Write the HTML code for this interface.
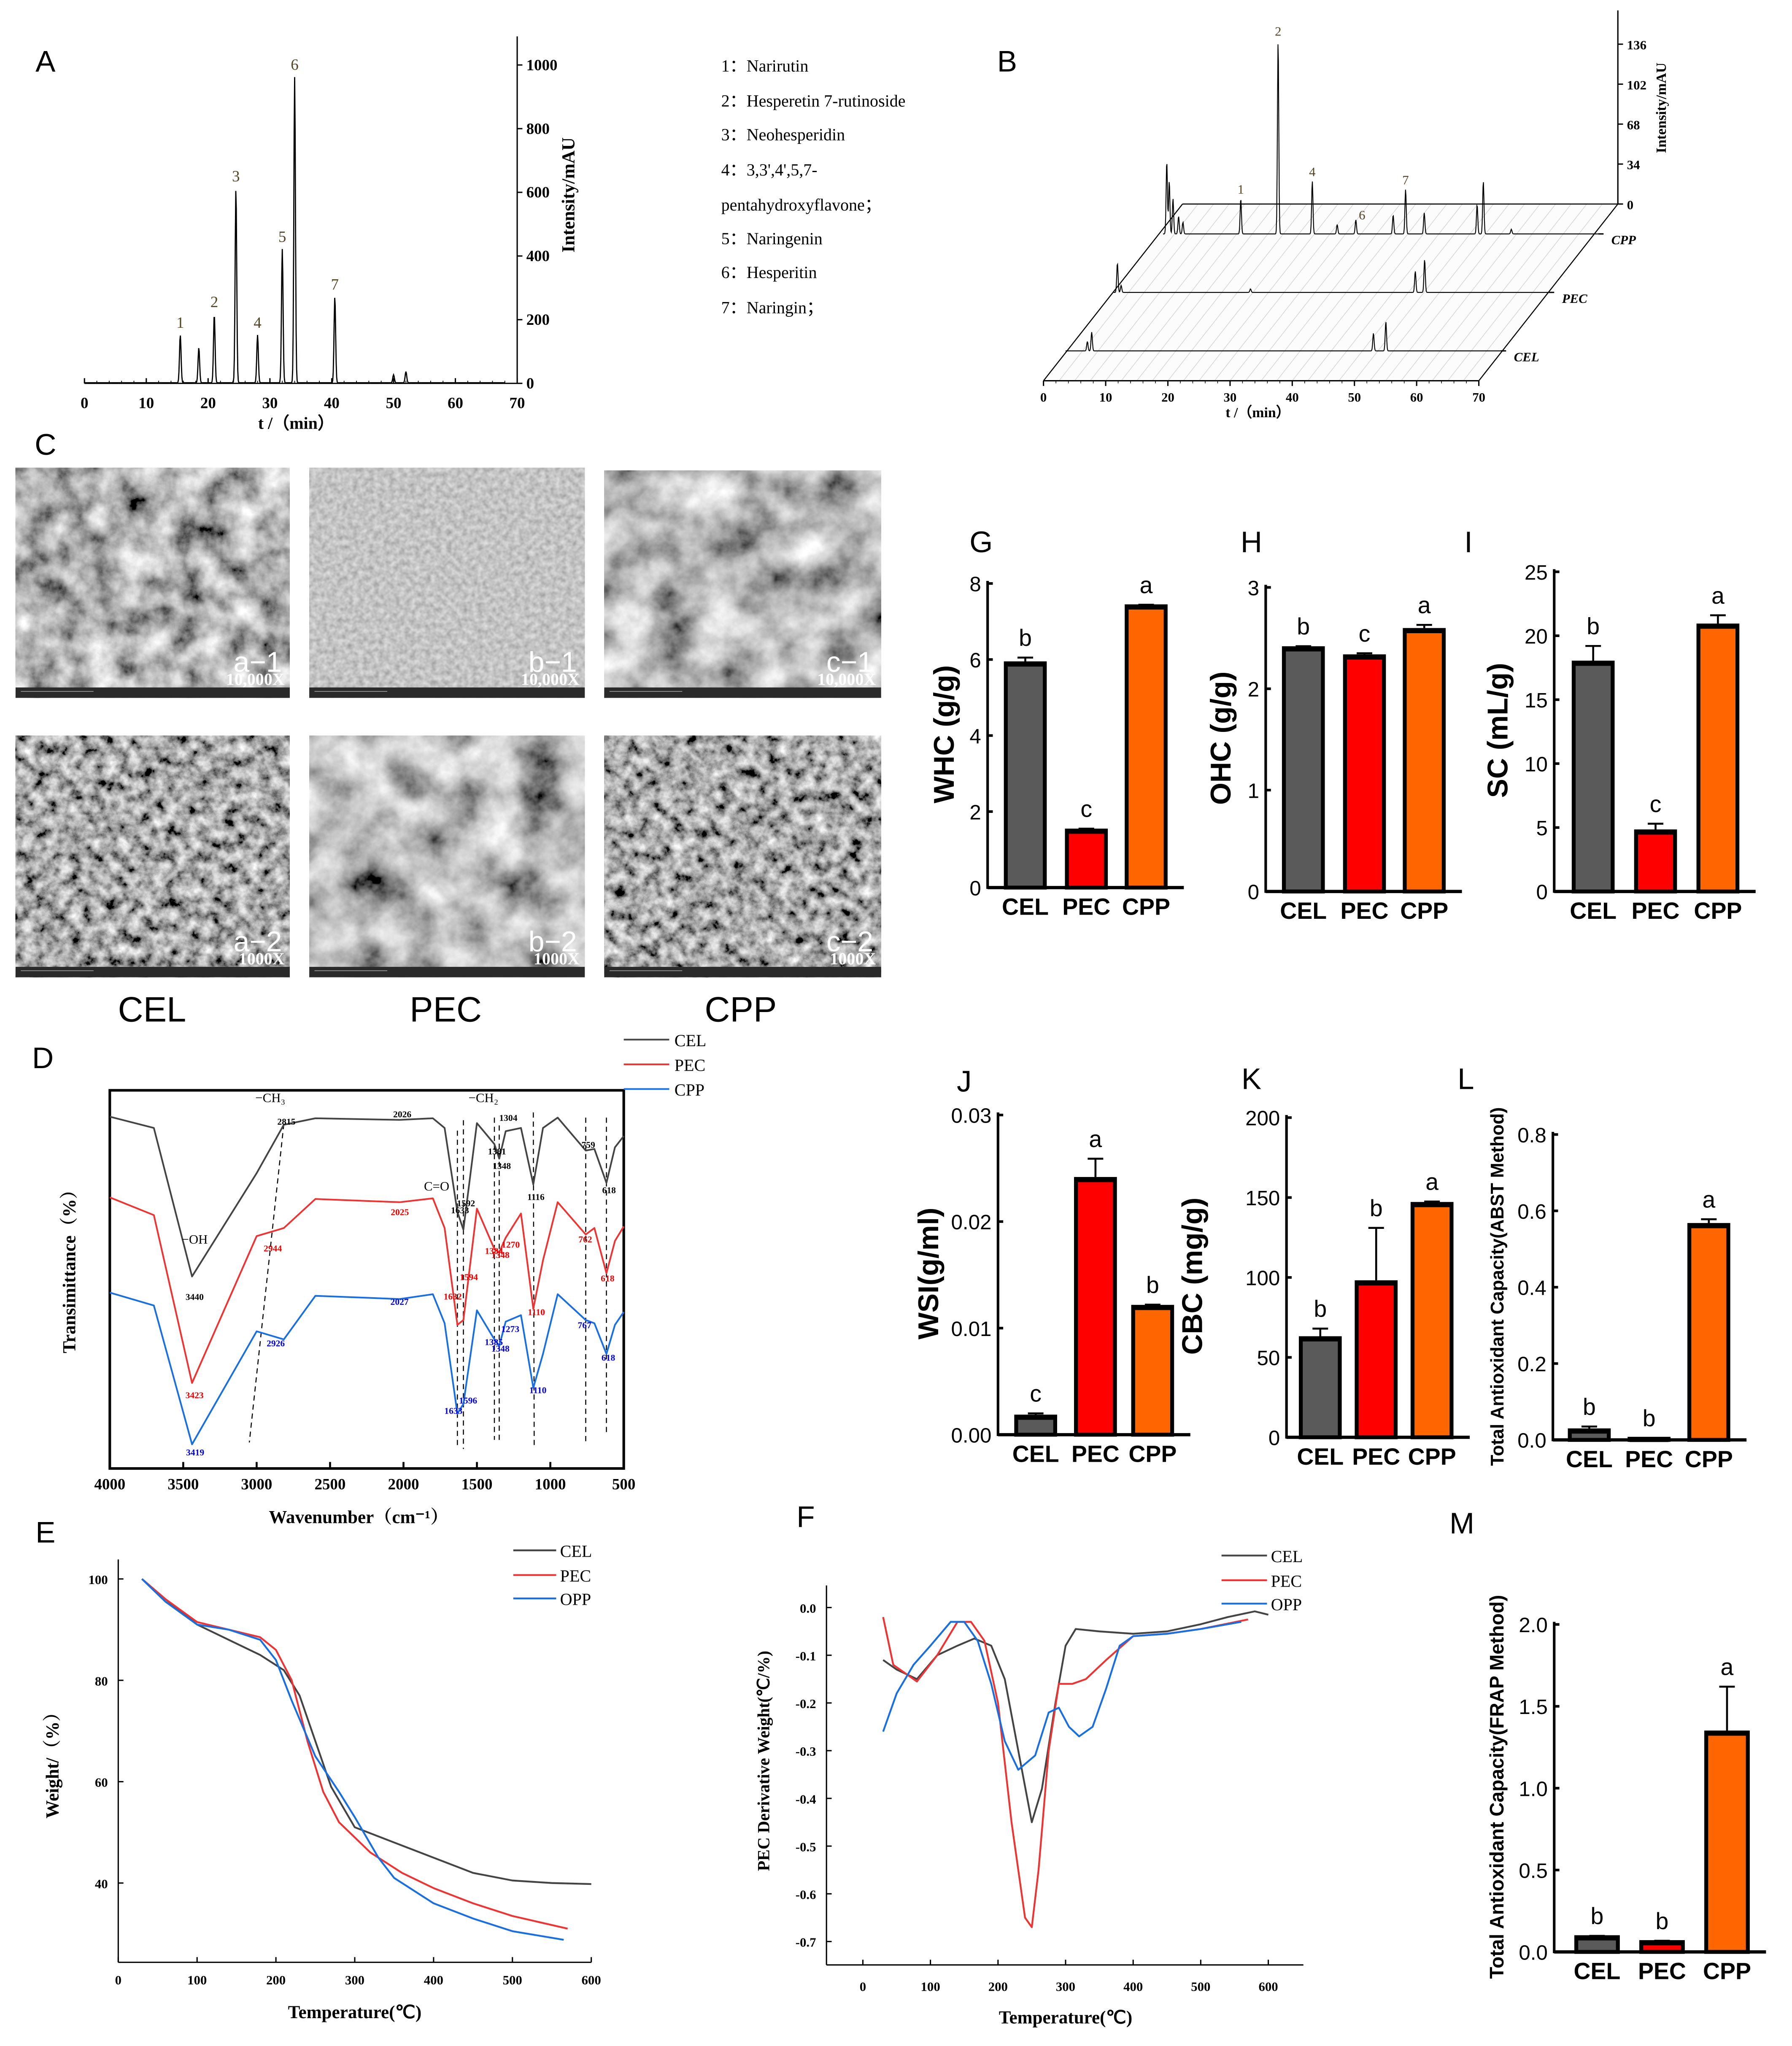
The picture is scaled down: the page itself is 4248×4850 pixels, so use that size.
<!DOCTYPE html>
<html><head><meta charset="utf-8"><style>
html,body{margin:0;padding:0;background:#fff;}
svg{display:block;}
</style></head>
<body>
<svg id="fig" width="4248" height="4850" viewBox="0 0 1379 1574.4" preserveAspectRatio="none" xmlns="http://www.w3.org/2000/svg">
<defs>
<filter id="sem1" x="0" y="0" width="100%" height="100%"><feTurbulence type="fractalNoise" baseFrequency="0.045" numOctaves="5" seed="3"/><feColorMatrix type="matrix" values="1.5 0 0 0 -0.3 1.5 0 0 0 -0.3 1.5 0 0 0 -0.3 0 0 0 0 1"/></filter>
<filter id="sem2" x="0" y="0" width="100%" height="100%"><feTurbulence type="fractalNoise" baseFrequency="0.11" numOctaves="4" seed="7"/><feColorMatrix type="matrix" values="1.5 0 0 0 -0.35 1.5 0 0 0 -0.35 1.5 0 0 0 -0.35 0 0 0 0 1"/></filter>
<filter id="sem3" x="0" y="0" width="100%" height="100%"><feTurbulence type="fractalNoise" baseFrequency="0.25" numOctaves="2" seed="5"/><feColorMatrix type="matrix" values="0.5 0 0 0 0.3 0.5 0 0 0 0.3 0.5 0 0 0 0.3 0 0 0 0 1"/></filter>
<filter id="sem4" x="0" y="0" width="100%" height="100%"><feTurbulence type="fractalNoise" baseFrequency="0.03" numOctaves="5" seed="11"/><feColorMatrix type="matrix" values="1.4 0 0 0 -0.2 1.4 0 0 0 -0.2 1.4 0 0 0 -0.2 0 0 0 0 1"/></filter>
</defs>
<g id="root"></g>
</svg>
<script>
// ---------- DATA ----------
const aPeakTimes=[15.5,18.5,21,24.5,28,32,34,40.5,50,52];
const aPeakHeights=[150,110,215,610,150,420,960,270,25,35];
const aPeakLabels=["1","","2","3","4","5","6","7","",""];
const aXTicks=[0,10,20,30,40,50,60,70];
const aYTicks=[0,200,400,600,800,1000];
const aLegend=["1：Narirutin","2：Hesperetin 7-rutinoside","3：Neohesperidin","4：3,3',4',5,7-","pentahydroxyflavone；","5：Naringenin","6：Hesperitin","7：Naringin；"];
const bCppTimes=[0.6,1.0,1.6,2.5,3.2,12.5,18.5,24,28,31,37,39,42,50.5,51.5,56];
const bCppHeights=[62,45,30,15,10,30,165,45,8,12,16,38,18,25,45,4];
const bPecTimes=[0.6,1.2,22,48.5,50];
const bPecHeights=[25,6,3,18,28];
const bCelTimes=[3.5,4.2,49.5,51.5];
const bCelHeights=[8,16,15,25];
const bXTicks=[0,10,20,30,40,50,60,70];
const bZTicks=[0,34,68,102,136];
const dWave=[4000,3700,3440,3000,2815,2600,2026,1800,1720,1633,1592,1500,1381,1348,1304,1200,1116,1050,950,759,700,618,560,500];
const dCel=[295,330,790,470,320,300,305,300,330,590,645,315,380,425,340,330,505,330,298,400,395,500,390,355];
const dPec=[545,600,1120,665,640,550,560,548,640,940,925,580,705,715,670,595,890,740,560,660,640,780,680,635];
const dCpp=[840,880,1310,960,985,850,860,845,935,1215,1185,895,985,1005,930,910,1135,1030,845,925,935,1030,940,900];
const dXTicks=[4000,3500,3000,2500,2000,1500,1000,500];
const eCelT=[30,60,100,140,180,210,230,250,270,300,350,400,450,500,550,600];
const eCelW=[100,96,91,88,85,82,77,68,59,51,48,45,42,40.5,40,39.8];
const ePecT=[30,60,100,140,180,200,220,240,260,280,320,360,400,450,500,570];
const ePecW=[100,96,91.5,90,88.5,86,80,68,58,52,46,42,39,36,33.5,31];
const eOppT=[30,60,100,140,180,200,220,250,280,300,330,350,400,450,500,565];
const eOppW=[100,95.5,91,90,88,84,76,65,58,53,45,41,36,33,30.5,28.8];
const eXTicks=[0,100,200,300,400,500,600];
const eYTicks=[40,60,80,100];
const fCelT=[30,50,80,110,140,165,190,210,230,250,265,285,300,315,350,400,450,500,540,580,600];
const fCelD=[-0.11,-0.13,-0.15,-0.1,-0.08,-0.065,-0.08,-0.15,-0.3,-0.45,-0.38,-0.2,-0.08,-0.045,-0.05,-0.055,-0.05,-0.035,-0.02,-0.008,-0.015];
const fPecT=[30,45,80,110,140,160,180,200,220,240,250,260,275,290,310,330,360,400,450,500,570];
const fPecD=[-0.02,-0.12,-0.155,-0.1,-0.03,-0.03,-0.07,-0.2,-0.45,-0.65,-0.67,-0.55,-0.3,-0.16,-0.16,-0.15,-0.11,-0.06,-0.055,-0.045,-0.025];
const fOppT=[30,50,75,100,130,150,170,190,210,230,255,275,290,305,320,340,360,380,400,450,500,560];
const fOppD=[-0.26,-0.18,-0.12,-0.08,-0.03,-0.03,-0.07,-0.16,-0.28,-0.34,-0.31,-0.22,-0.21,-0.25,-0.27,-0.25,-0.17,-0.08,-0.06,-0.055,-0.045,-0.03];
const fXTicks=[0,100,200,300,400,500,600];
const fYTicks=[0,-0.1,-0.2,-0.3,-0.4,-0.5,-0.6,-0.7];
const barCats=["CEL","PEC","CPP"];
const gVals=[5.9,1.5,7.4], gErr=[0.15,0.05,0.04], gLet=["b","c","a"], gTicks=[0,2,4,6,8];
const hVals=[2.4,2.32,2.58], hErr=[0.02,0.03,0.05], hLet=["b","c","a"], hTicks=[0,1,2,3];
const iVals=[17.9,4.7,20.8], iErr=[1.3,0.6,0.8], iLet=["b","c","a"], iTicks=[0,5,10,15,20,25];
const jVals=[0.0017,0.024,0.012], jErr=[0.0003,0.0019,0.0002], jLet=["c","a","b"], jTicks=[0,0.01,0.02,0.03];
const kVals=[62,97,146], kErr=[6,34,1.5], kLet=["b","b","a"], kTicks=[0,50,100,150,200];
const lVals=[0.025,0.003,0.563], lErr=[0.01,0.002,0.015], lLet=["b","b","a"], lTicks=[0,0.2,0.4,0.6,0.8];
const mVals=[0.09,0.06,1.34], mErr=[0.008,0.008,0.28], mLet=["b","b","a"], mTicks=[0,0.5,1.0,1.5,2.0];

// ---------- HELPERS ----------
const NS="http://www.w3.org/2000/svg";
const root=document.getElementById('root');
function mk(tag,attrs,parent){const e=document.createElementNS(NS,tag);for(const k in attrs)e.setAttribute(k,attrs[k]);(parent||root).appendChild(e);return e;}
function txt(x,y,s,size,opts,parent){opts=opts||{};const e=mk('text',{x:x,y:y,'font-size':size,'text-anchor':opts.anchor||'middle','font-family':opts.font||'"Liberation Sans",sans-serif','font-weight':opts.weight||'normal',fill:opts.fill||'#000'},parent);if(opts.rot)e.setAttribute('transform','rotate('+opts.rot+' '+x+' '+y+')');if(opts.italic)e.setAttribute('font-style','italic');e.textContent=s;return e;}
function lin(d0,d1,r0,r1){return v=>r0+(v-d0)*(r1-r0)/(d1-d0);}
const SERIF='"Liberation Serif",serif';

[["A",35,55],["B",775,55],["C",35,350],["D",33,822],["E",35,1187],["F",620,1175],["G",755,425],["H",963,425],["I",1130,425],["J",742,840],["K",963,838],["L",1128,838],["M",1125,1180]].forEach(p=>{
 const t=txt(p[1],p[2],p[0],23,{});
 
 
});

// ---------- PANEL A ----------
(function(){
 const g=mk('g',{});
 
 
 const x=lin(0,70,65,398), y=lin(0,1000,295,50);
 mk('line',{x1:65,y1:295,x2:398,y2:295,stroke:'#000','stroke-width':1},g);
 mk('line',{x1:398,y1:295,x2:398,y2:28,stroke:'#000','stroke-width':1},g);
 aXTicks.forEach(t=>{mk('line',{x1:x(t),y1:295,x2:x(t),y2:291,stroke:'#000'},g);txt(x(t),314,String(t),12,{font:SERIF,weight:'bold'},g);});
 for(let t=0;t<=70;t+=2)mk('line',{x1:x(t),y1:295,x2:x(t),y2:293,stroke:'#000','stroke-width':0.6},g);
 aYTicks.forEach(t=>{mk('line',{x1:398,y1:y(t),x2:402,y2:y(t),stroke:'#000'},g);txt(405,y(t)+4,String(t),12,{font:SERIF,weight:'bold',anchor:'start'},g);});
 txt(228,330,"t /（min）",13,{font:SERIF,weight:'bold'},g);
 const yl=txt(442,150,"Intensity/mAU",14,{font:SERIF,weight:'bold',rot:-90},g);
 
 let pts=[];
 for(let t=0;t<=68;t+=0.08){let v=2;aPeakTimes.forEach((pt,i)=>{v+=aPeakHeights[i]*Math.exp(-Math.pow((t-pt)/0.18,2));});pts.push(x(t).toFixed(2)+','+y(v).toFixed(2));}
 const pl=mk('polyline',{points:pts.join(' '),fill:'none',stroke:'#000','stroke-width':0.9},g);
 
 aPeakTimes.forEach((pt,i)=>{if(aPeakLabels[i])txt(x(pt),y(aPeakHeights[i])-6,aPeakLabels[i],12,{font:SERIF,fill:'#554422'},g);});
 aLegend.forEach((s,i)=>{const ly=[55,82,108,135,162,188,214,241][i];const t=txt(555,ly,s,13,{font:SERIF+',"Noto Sans CJK SC"',anchor:'start'},g);
  });
})();

// ---------- PANEL B ----------
(function(){
 const g=mk('g',{});
 
 
 const x=lin(0,70,803,1138);
 mk('polygon',{points:'803,293 1138,293 1245,157 910,157',fill:'#fcfcfc',stroke:'none'},g);
 for(let t=0;t<=70;t+=2.5){mk('line',{x1:x(t),y1:293,x2:x(t)+107,y2:157,stroke:'#ccc','stroke-width':0.4},g);}
 mk('line',{x1:803,y1:293,x2:910,y2:157,stroke:'#000','stroke-width':0.8},g);
 mk('line',{x1:1138,y1:293,x2:1245,y2:157,stroke:'#000','stroke-width':0.8},g);
 mk('line',{x1:910,y1:157,x2:1245,y2:157,stroke:'#000','stroke-width':0.8},g);
 mk('line',{x1:803,y1:293,x2:1138,y2:293,stroke:'#000','stroke-width':1},g);
 bXTicks.forEach(t=>{mk('line',{x1:x(t),y1:293,x2:x(t),y2:297,stroke:'#000'},g);txt(x(t),309,String(t),10,{font:SERIF,weight:'bold'},g);});
 for(let t=0;t<=70;t+=2)mk('line',{x1:x(t),y1:293,x2:x(t),y2:295,stroke:'#000','stroke-width':0.5},g);
 txt(968,321,"t /（min）",11,{font:SERIF,weight:'bold'},g);
 const z=lin(0,136,157,34);
 mk('line',{x1:1245,y1:157,x2:1245,y2:8,stroke:'#000'},g);
 bZTicks.forEach(t=>{mk('line',{x1:1245,y1:z(t),x2:1249,y2:z(t),stroke:'#000'},g);txt(1252,z(t)+4,String(t),10,{font:SERIF,weight:'bold',anchor:'start'},g);});
 txt(1282,83,"Intensity/mAU",11,{font:SERIF,weight:'bold',rot:-90},g);
 function trace(times,hts,ox,oy,name,lbl){
  const sx=(1138-803)/70;let pts=[];
  for(let t=0;t<=70;t+=0.07){let v=0;times.forEach((pt,i)=>{v+=hts[i]*Math.exp(-Math.pow((t-pt)/0.15,2));});pts.push((ox+t*sx).toFixed(2)+','+(oy-v*0.9).toFixed(2));}
  const p=mk('polyline',{points:pts.join(' '),fill:'none',stroke:'#000','stroke-width':0.7},g);
  
  txt(ox+70*sx+10,oy+8,lbl,10,{font:SERIF,weight:'bold',italic:true,anchor:'start'},g);
  mk('line',{x1:ox+70*sx,y1:oy,x2:ox+70*sx+4,y2:oy,stroke:'#000'},g);
 }
 trace(bCppTimes,bCppHeights,895,180,'trace-cpp','CPP');
 trace(bPecTimes,bPecHeights,857,225,'trace-pec','PEC');
 trace(bCelTimes,bCelHeights,820,270,'trace-cel','CEL');
 [["1",12.5],["2",18.5],["4",24],["6",32],["7",39]].forEach(p=>{const idx=bCppTimes.indexOf(p[1]);const h=idx>=0?bCppHeights[idx]:8;txt(895+p[1]*(335/70),180-h*0.9-4,p[0],10,{font:SERIF,fill:'#554422'},g);});
})();

// ---------- PANEL C (SEM) ----------
(function(){
 const imgs=[[12,360,211,177,'sem1','a−1','10,000X'],[238,360,212,177,'sem3','b−1','10,000X'],[465,362,213,175,'sem4','c−1','10,000X'],
  [12,566,211,186,'sem2','a−2','1000X'],[238,566,212,186,'sem4','b−2','1000X'],[465,566,213,186,'sem2','c−2','1000X']];
 imgs.forEach((m,i)=>{
  const g=mk('g',{});
  
  
  mk('rect',{x:m[0],y:m[1],width:m[2],height:m[3],fill:'#777'},g);
  mk('rect',{x:m[0],y:m[1],width:m[2],height:m[3],filter:'url(#'+m[4]+')'},g);
  mk('rect',{x:m[0],y:m[1]+m[3]-8,width:m[2],height:8,fill:'#2a2a2a'},g);
  mk('line',{x1:m[0]+4,y1:m[1]+m[3]-5,x2:m[0]+60,y2:m[1]+m[3]-5,stroke:'#aaa','stroke-width':0.5},g);
  txt(m[0]+m[2]-6,m[1]+m[3]-20,m[5],22,{anchor:'end',fill:'#fff'},g);
  txt(m[0]+m[2]-4,m[1]+m[3]-10,m[6],13,{font:SERIF,weight:'bold',anchor:'end',fill:'#fff'},g);
 });
 [["CEL",117],["PEC",343],["CPP",570]].forEach(c=>{const t=txt(c[1],786,c[0],27,{});});
})();

// ---------- PANEL D FTIR ----------
(function(){
 const g=mk('g',{});
 
 
 const x=lin(4000,500,84.5,480), y=v=>786+v*0.2484;
 mk('rect',{x:84.5,y:839,width:395.5,height:291,fill:'none',stroke:'#000','stroke-width':2},g);
 dXTicks.forEach(t=>{mk('line',{x1:x(t),y1:1130,x2:x(t),y2:1125,stroke:'#000','stroke-width':1.5},g);txt(x(t),1146,String(t),12,{font:SERIF,weight:'bold'},g);});
 txt(276,1172,"Wavenumber（cm⁻¹）",14,{font:SERIF+',"Noto Serif CJK SC"',weight:'bold'},g);
 txt(58,975,"Transimittance（%）",14,{font:SERIF+',"Noto Serif CJK SC"',weight:'bold',rot:-90},g);
 [[2815,865,3050,1110],[1633,870,1633,1112],[1592,862,1592,1115],[1381,860,1381,1108],[1348,866,1348,1108],[1116,856,1110,1112],[759,860,759,1110],[618,860,618,1105]].forEach(l=>{
  mk('line',{x1:x(l[0]),y1:l[1],x2:x(l[2]),y2:l[3],stroke:'#000','stroke-width':0.8,'stroke-dasharray':'4,3'},g);});
 function curve(vals,col,name){
  const p=mk('polyline',{points:dWave.map((w,i)=>x(w).toFixed(2)+','+y(vals[i]).toFixed(2)).join(' '),fill:'none',stroke:col,'stroke-width':1.3,'stroke-linejoin':'round'},g);
  
 }
 curve(dCel,'#444','ftir-cel'); curve(dPec,'#ee3333','ftir-pec'); curve(dCpp,'#1a6fe0','ftir-cpp');
 [[3440,dCel,0,'#000',14],[2815,dCel,4,'#000',-4],[2026,dCel,6,'#000',-6],[1633,dCel,9,'#000',-3],[1592,dCel,10,'#000',-22],[1381,dCel,12,'#000',4],[1348,dCel,13,'#000',4],[1304,dCel,14,'#000',-12],[1116,dCel,16,'#000',8],[759,dCel,19,'#000',-6],[618,dCel,21,'#000',4]].forEach(a=>{
  const i=dWave.indexOf(a[0]);txt(x(a[0])+2,y(a[1][i>=0?i:0])+a[4]+4,String(a[0]),7,{font:SERIF,weight:'bold',fill:a[3]},g);});
 [["3423",3423,1076],["2944",2890,963],["2025",2025,935],["1632",1665,1000],["1594",1555,985],["1384",1384,965],["1348",1340,968],["1270",1270,960],["1110",1095,1012],["762",762,956],["618",610,986]].forEach(a=>txt(x(a[1]),a[2],a[0],7,{font:SERIF,weight:'bold',fill:'#e00'},g));
 [["3419",3419,1120],["2926",2870,1036],["2027",2027,1004],["1633",1660,1088],["1596",1560,1080],["1385",1385,1035],["1348",1340,1040],["1273",1273,1025],["1110",1085,1072],["767",767,1022],["618",605,1047]].forEach(a=>txt(x(a[1]),a[2],a[0],7,{font:SERIF,weight:'bold',fill:'#00d'},g));
 txt(x(3440)+2,957,"−OH",10,{font:SERIF},g);
 txt(208,848,"−CH₃",10,{font:SERIF},g);
 txt(372,848,"−CH₂",10,{font:SERIF},g);
 txt(336,916,"C=O",10,{font:SERIF},g);
 [["CEL","#444",800],["PEC","#ee3333",819],["CPP","#1a6fe0",838]].forEach(l=>{
  const e=mk('line',{x1:480,y1:l[2],x2:515,y2:l[2],stroke:l[1],'stroke-width':1.3},g);
  
  txt(519,l[2]+5,l[0],13,{font:SERIF,anchor:'start'},g);});
})();

// ---------- PANEL E TGA ----------
(function(){
 const g=mk('g',{});
 
 
 const x=lin(0,600,91,455), y=lin(40,100,1449,1215);
 mk('line',{x1:91,y1:1510,x2:455,y2:1510,stroke:'#000'},g);
 mk('line',{x1:91,y1:1510,x2:91,y2:1200,stroke:'#000'},g);
 eXTicks.forEach(t=>{mk('line',{x1:x(t),y1:1510,x2:x(t),y2:1506,stroke:'#000'},g);txt(x(t),1527,String(t),10,{font:SERIF,weight:'bold'},g);});
 eYTicks.forEach(t=>{mk('line',{x1:91,y1:y(t),x2:95,y2:y(t),stroke:'#000'},g);txt(83,y(t)+4,String(t),10,{font:SERIF,weight:'bold',anchor:'end'},g);});
 txt(273,1553,"Temperature(℃)",14,{font:SERIF,weight:'bold'},g);
 txt(45,1355,"Weight/（%）",14,{font:SERIF+',"Noto Serif CJK SC"',weight:'bold',rot:-90},g);
 [[eCelT,eCelW,'#444','tga-cel'],[ePecT,ePecW,'#ee3333','tga-pec'],[eOppT,eOppW,'#1a6fe0','tga-opp']].forEach(s=>{
  const p=mk('polyline',{points:s[0].map((t,i)=>x(t).toFixed(2)+','+y(s[1][i]).toFixed(2)).join(' '),fill:'none',stroke:s[2],'stroke-width':1.4,'stroke-linejoin':'round'},g);
  });
 [["CEL","#444",1193],["PEC","#ee3333",1212],["OPP","#1a6fe0",1230]].forEach(l=>{
  const e=mk('line',{x1:395,y1:l[2],x2:428,y2:l[2],stroke:l[1],'stroke-width':1.4},g);
  
  txt(431,l[2]+5,l[0],13,{font:SERIF,anchor:'start'},g);});
})();

// ---------- PANEL F DTG ----------
(function(){
 const g=mk('g',{});
 
 
 const x=lin(0,600,664,976), y=lin(0,-0.7,1237,1494);
 mk('line',{x1:636,y1:1512,x2:1003,y2:1512,stroke:'#000'},g);
 mk('line',{x1:636,y1:1512,x2:636,y2:1220,stroke:'#000'},g);
 fXTicks.forEach(t=>{mk('line',{x1:x(t),y1:1512,x2:x(t),y2:1508,stroke:'#000'},g);txt(x(t),1532,String(t),10,{font:SERIF,weight:'bold'},g);});
 fYTicks.forEach(t=>{mk('line',{x1:636,y1:y(t),x2:640,y2:y(t),stroke:'#000'},g);txt(628,y(t)+4,t.toFixed(1),10,{font:SERIF,weight:'bold',anchor:'end'},g);});
 txt(820,1557,"Temperature(℃)",14,{font:SERIF,weight:'bold'},g);
 txt(592,1355,"PEC Derivative Weight(℃/%)",13,{font:SERIF,weight:'bold',rot:-90},g);
 [[fCelT,fCelD,'#444','dtg-cel'],[fPecT,fPecD,'#ee3333','dtg-pec'],[fOppT,fOppD,'#1a6fe0','dtg-opp']].forEach(s=>{
  const p=mk('polyline',{points:s[0].map((t,i)=>x(t).toFixed(2)+','+y(s[1][i]).toFixed(2)).join(' '),fill:'none',stroke:s[2],'stroke-width':1.4,'stroke-linejoin':'round'},g);
  });
 [["CEL","#444",1197],["PEC","#ee3333",1216],["OPP","#1a6fe0",1234]].forEach(l=>{
  const e=mk('line',{x1:940,y1:l[2],x2:975,y2:l[2],stroke:l[1],'stroke-width':1.4},g);
  
  txt(978,l[2]+5,l[0],13,{font:SERIF,anchor:'start'},g);});
})();

// ---------- BAR CHARTS ----------
const barColors=['#5a5a5a','#ff0000','#ff6600'];
function barChart(cfg){
 const g=mk('g',{});
 
 
 const top=cfg.ticks[cfg.ticks.length-1];
 const y=lin(0,top,cfg.bottom,cfg.top);
 const right=cfg.centers[2]+cfg.w/2+14;
 mk('line',{x1:cfg.left,y1:cfg.bottom,x2:right,y2:cfg.bottom,stroke:'#000','stroke-width':2.5},g);
 mk('line',{x1:cfg.left,y1:cfg.bottom+1,x2:cfg.left,y2:cfg.top-2,stroke:'#000','stroke-width':2},g);
 cfg.ticks.forEach(t=>{mk('line',{x1:cfg.left,y1:y(t),x2:cfg.left+4,y2:y(t),stroke:'#000','stroke-width':2},g);
  txt(cfg.left-5,y(t)+6,cfg.fmt(t),16,{anchor:'end'},g);});
 cfg.vals.forEach((v,i)=>{
  const cx=cfg.centers[i];
  mk('line',{x1:cx,y1:y(v),x2:cx,y2:y(v+cfg.err[i]),stroke:'#000','stroke-width':1.5},g);
  mk('line',{x1:cx-6,y1:y(v+cfg.err[i]),x2:cx+6,y2:y(v+cfg.err[i]),stroke:'#000','stroke-width':1.5},g);
  const r=mk('rect',{x:cx-cfg.w/2,y:y(v),width:cfg.w,height:Math.max(cfg.bottom-y(v),0.5),fill:barColors[i],stroke:'#000','stroke-width':3},g);
  
  
  mk('line',{x1:cx-cfg.w/2,y1:y(v)+1,x2:cx+cfg.w/2,y2:y(v)+1,stroke:'#000','stroke-width':3},g);
  txt(cx,y(v+cfg.err[i])-9,cfg.let[i],18,{},g);
  txt(cx,cfg.bottom+21,barCats[i],18,{weight:'bold'},g);
 });
 const yt=txt(cfg.ylx,cfg.yly,cfg.ylabel,cfg.ylSize||22,{weight:'bold',rot:-90},g);
 
}
const f0=t=>String(t), f1=t=>t.toFixed(1), f2=t=>t.toFixed(2);
barChart({name:'whc-bar-chart-g',left:760,bottom:683,top:449,ticks:gTicks,vals:gVals,err:gErr,let:gLet,centers:[789,836,882],w:30,fmt:f0,ylabel:'WHC (g/g)',ylx:734,yly:565});
barChart({name:'ohc-bar-chart-h',left:974,bottom:686,top:452,ticks:hTicks,vals:hVals,err:hErr,let:hLet,centers:[1003,1050,1096],w:30,fmt:f0,ylabel:'OHC (g/g)',ylx:947,yly:568});
barChart({name:'sc-bar-chart-i',left:1196,bottom:686,top:440,ticks:iTicks,vals:iVals,err:iErr,let:iLet,centers:[1226,1274,1322],w:30,fmt:f0,ylabel:'SC (mL/g)',ylx:1160,yly:562});
barChart({name:'wsi-bar-chart-j',left:768,bottom:1104,top:858,ticks:jTicks,vals:jVals,err:jErr,let:jLet,centers:[797,843,887],w:30,fmt:f2,ylabel:'WSI(g/ml)',ylx:722,yly:980});
barChart({name:'cbc-bar-chart-k',left:990,bottom:1106,top:860,ticks:kTicks,vals:kVals,err:kErr,let:kLet,centers:[1016,1059,1102],w:30,fmt:f0,ylabel:'CBC (mg/g)',ylx:925,yly:982});
barChart({name:'abts-bar-chart-l',left:1195,bottom:1108,top:873,ticks:lTicks,vals:lVals,err:lErr,let:lLet,centers:[1223,1269,1315],w:30,fmt:f1,ylabel:'Total Antioxidant Capacity(ABST  Method)',ylx:1157,yly:990,ylSize:14});
barChart({name:'frap-bar-chart-m',left:1196,bottom:1502,top:1250,ticks:mTicks,vals:mVals,err:mErr,let:mLet,centers:[1229,1279,1329],w:32,fmt:f1,ylabel:'Total Antioxidant Capacity(FRAP  Method)',ylx:1157,yly:1375,ylSize:15});
</script>
</body></html>
